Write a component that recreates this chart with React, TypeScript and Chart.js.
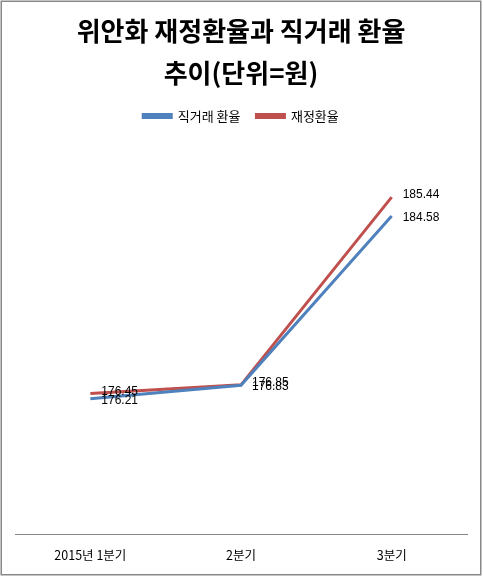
import { useEffect, useRef } from 'react';
import Chart from 'chart.js/auto';

const titleLines = ['위안화 재정환율과 직거래 환율', '추이(단위=원)'];
const categories = ['2015년 1분기', '2분기', '3분기'];
const seriesNames = ['직거래 환율', '재정환율'];
const directRate = [176.21, 176.83, 184.58];
const crossRate = [176.45, 176.85, 185.44];
const yMin = 170;
const yMax = 188.4;

const KR = '"Noto Sans CJK KR", "Noto Sans", sans-serif';

// 차트 바깥 회색 테두리
const frame = {
  id: 'frame',
  beforeDraw(chart: Chart) {
    const { ctx, width, height } = chart;
    ctx.save();
    ctx.fillStyle = '#ffffff';
    ctx.fillRect(0, 0, width, height);
    ctx.strokeStyle = '#878787';
    ctx.lineWidth = 1.5;
    ctx.strokeRect(1.25, 1.25, width - 3.5, height - 3.5);
    ctx.restore();
  },
};

// 점 오른쪽에 값 표시
const valueLabels = {
  id: 'valueLabels',
  afterDatasetsDraw(chart: Chart) {
    const { ctx } = chart;
    const nudge = [1.5, -2];
    ctx.save();
    ctx.font = '12px "Liberation Sans", sans-serif';
    ctx.fillStyle = '#000000';
    ctx.textAlign = 'left';
    ctx.textBaseline = 'middle';
    chart.data.datasets.forEach((ds, i) => {
      const meta = chart.getDatasetMeta(i);
      meta.data.forEach((pt, j) => {
        const v = ds.data[j] as number;
        ctx.fillText(v.toFixed(2), pt.x + 11, pt.y + nudge[i]);
      });
    });
    ctx.restore();
  },
};

export default function App() {
  const canvasRef = useRef<HTMLCanvasElement>(null);

  useEffect(() => {
    if (!canvasRef.current) return;
    const chart = new Chart(canvasRef.current, {
      type: 'line',
      data: {
        labels: categories,
        datasets: [
          {
            label: seriesNames[0],
            data: directRate,
            borderColor: '#4F81BD',
            backgroundColor: '#4F81BD',
            borderWidth: 3,
            pointRadius: 0,
            tension: 0,
          },
          {
            label: seriesNames[1],
            data: crossRate,
            borderColor: '#C0504D',
            backgroundColor: '#C0504D',
            borderWidth: 3,
            pointRadius: 0,
            tension: 0,
          },
        ],
      },
      options: {
        responsive: false,
        animation: false,
        layout: { padding: { left: 15, right: 16, top: 0, bottom: 0.5 } },
        plugins: {
          title: {
            display: true,
            text: titleLines,
            color: '#000000',
            font: { family: KR, size: 26, weight: 'bold', lineHeight: 1.615 },
            padding: { top: 10, bottom: -0.5 },
          },
          legend: {
            display: true,
            labels: {
              color: '#000000',
              font: { family: KR, size: 13 },
              boxWidth: 28,
              boxHeight: 3,
              padding: 16,
            },
          },
          tooltip: { enabled: false },
        },
        scales: {
          x: {
            offset: true,
            grid: { display: false, drawTicks: false },
            border: { display: true, color: '#868686', width: 1 },
            ticks: {
              color: '#000000',
              font: { family: KR, size: 12.5 },
              padding: 13.5,
              maxRotation: 0,
            },
          },
          y: {
            display: false,
            min: yMin,
            max: yMax,
          },
        },
      },
      plugins: [frame, valueLabels],
    });
    return () => chart.destroy();
  }, []);

  return (
    <div style={{ position: 'absolute', left: 0, top: 0, width: 483, height: 577 }}>
      <canvas ref={canvasRef} width={483} height={577} />
    </div>
  );
}
